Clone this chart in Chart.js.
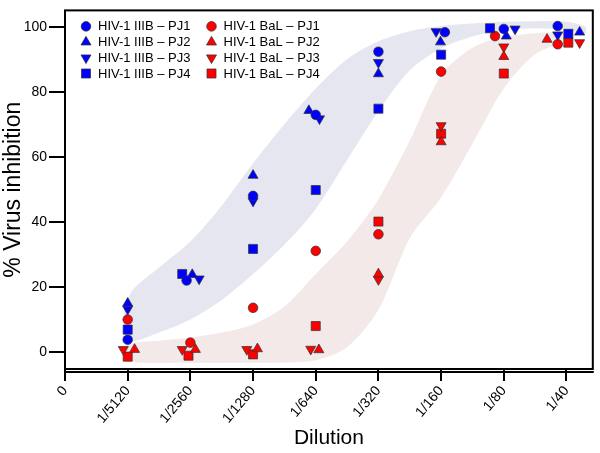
<!DOCTYPE html>
<html lang="en">
<head>
<meta charset="UTF-8">
<title>Virus inhibition vs dilution</title>
<script src="https://cdn.jsdelivr.net/npm/chart.js"></script>
<style>
    body { margin: 0; background: #fff; }
    #wrap { width: 600px; height: 453px; }
</style>
</head>
<body>
<div id="wrap"><canvas id="inhibitionChart" width="600" height="453"></canvas></div>
<script>
// dilution axis labels, position 0..8
const dilutionLabels = ['0', '1/5120', '1/2560', '1/1280', '1/640', '1/320', '1/160', '1/80', '1/40'];

// x = dilution position (points nudged sideways a bit like in the figure), y = % inhibition
const iiibPj1X = [1.0, 1.94, 3.0, 4.0, 5.0, 6.06, 7.0, 7.86];
const iiibPj1Y = [3.8, 22.0, 48.0, 72.9, 92.3, 98.3, 99.3, 100.2];
const iiibPj2X = [1.0, 2.03, 3.0, 3.89, 5.0, 5.99, 7.04, 8.21];
const iiibPj2Y = [15.0, 23.8, 54.3, 74.2, 85.5, 95.3, 97.1, 98.3];
const iiibPj3X = [1.0, 2.14, 3.0, 4.06, 5.0, 5.92, 7.18, 7.86];
const iiibPj3Y = [13.2, 22.5, 46.4, 71.7, 89.0, 98.5, 99.3, 97.5];
const iiibPj4X = [1.0, 1.87, 3.0, 4.0, 5.0, 6.0, 6.78, 8.03];
const iiibPj4Y = [6.9, 24.0, 31.7, 49.8, 74.8, 91.4, 99.5, 97.8];

const balPj1X = [1.0, 2.0, 3.0, 4.0, 5.0, 6.0, 6.86, 7.86];
const balPj1Y = [10.0, 2.9, 13.6, 31.1, 36.2, 86.2, 97.1, 94.6];
const balPj2X = [1.11, 2.08, 3.07, 4.05, 5.0, 6.0, 7.0, 7.69];
const balPj2Y = [0.8, 0.8, 1.0, 0.7, 24.0, 64.6, 90.8, 96.1];
const balPj3X = [0.93, 1.87, 2.9, 3.92, 5.0, 6.0, 7.0, 8.21];
const balPj3Y = [0.8, 0.8, 0.8, 0.9, 22.3, 69.6, 93.8, 95.1];
const balPj4X = [1.0, 1.97, 3.0, 4.0, 5.0, 6.0, 7.0, 8.03];
const balPj4Y = [-1.4, -1.1, -0.7, 8.0, 40.1, 67.1, 85.6, 95.1];

// shaded envelopes (outline: upper edge left->right, then lower edge back)
const iiibBandX = [0.95, 1.1, 1.5, 2.0, 2.5, 3.0, 3.5, 4.0, 4.5, 5.0, 5.5, 6.0, 6.5, 7.0, 7.5, 8.0, 8.3,
                   8.3, 8.0, 7.5, 7.0, 6.5, 6.0, 5.5, 5.0, 4.5, 4.0, 3.5, 3.0, 2.5, 2.0, 1.5, 1.05, 0.93];
const iiibBandY = [14, 19.5, 26, 34, 45, 58, 70, 81, 90, 95.5, 98.6, 100.2, 101, 101.5, 101.7, 101.5, 100,
                   98, 99, 99.5, 98.8, 97, 93.3, 86.6, 74, 59, 44, 33, 24, 16, 10, 6, 3.3, 7];
const balBandX = [0.95, 1.0, 1.5, 2.0, 2.5, 3.0, 3.5, 4.0, 4.5, 5.0, 5.5, 6.0, 6.5, 7.0, 7.5, 7.95,
                  7.95, 7.5, 7.0, 6.5, 6.0, 5.5, 5.0, 4.5, 4.0, 3.5, 3.0, 2.0, 1.0, 0.95];
const balBandY = [0, 2.5, 3.5, 4.5, 6, 8.5, 14, 24, 34, 47, 65, 85, 93.5, 96.8, 98, 98,
                  95.5, 91.5, 81, 64, 47.5, 35, 13, 1.5, -2.5, -3.2, -3.3, -3.3, -3.0, -1];

const seriesNames = [
    'HIV-1 IIIB \u2013 PJ1', 'HIV-1 IIIB \u2013 PJ2', 'HIV-1 IIIB \u2013 PJ3', 'HIV-1 IIIB \u2013 PJ4',
    'HIV-1 BaL \u2013 PJ1', 'HIV-1 BaL \u2013 PJ2', 'HIV-1 BaL \u2013 PJ3', 'HIV-1 BaL \u2013 PJ4'
];

const FONT = 'Arial, "Liberation Sans", sans-serif';
const BLUE = 'rgb(0, 0, 255)';
const RED = 'rgb(255, 0, 0)';
const EDGE = 'rgba(50, 50, 50, 0.9)';

function pts(xs, ys) {
    return xs.map((x, i) => ({ x: x, y: ys[i] }));
}

// marker shapes: circle, up triangle, down triangle, square
const shapes = [
    { pointStyle: 'circle', rotation: 0, radius: 4.8 },
    { pointStyle: 'triangle', rotation: 0, radius: 5.8 },
    { pointStyle: 'triangle', rotation: 180, radius: 5.8 },
    { pointStyle: 'rect', rotation: 0, radius: 6.4 }
];

function markerSet(name, xs, ys, color, shape) {
    return {
        label: name,
        data: pts(xs, ys),
        backgroundColor: color,
        borderColor: EDGE,
        borderWidth: 0.8,
        pointStyle: shape.pointStyle,
        rotation: shape.rotation,
        pointRadius: shape.radius,
        order: 1
    };
}

function bandSet(xs, ys, color) {
    return {
        label: '',
        data: pts(xs, ys),
        showLine: true,
        fill: 'shape',
        backgroundColor: color,
        borderWidth: 0,
        borderColor: 'rgba(0,0,0,0)',
        pointRadius: 0,
        tension: 0.3,
        order: 10
    };
}

function drawMarker(ctx, shape, x, y) {
    const r = shape.radius;
    ctx.beginPath();
    if (shape.pointStyle === 'circle') {
        ctx.arc(x, y, r, 0, Math.PI * 2);
    } else if (shape.pointStyle === 'rect') {
        const s = r * Math.SQRT1_2;
        ctx.rect(x - s, y - s, 2 * s, 2 * s);
    } else {
        let a = shape.rotation * Math.PI / 180;
        ctx.moveTo(x + Math.sin(a) * r, y - Math.cos(a) * r);
        a += Math.PI * 2 / 3;
        ctx.lineTo(x + Math.sin(a) * r, y - Math.cos(a) * r);
        a += Math.PI * 2 / 3;
        ctx.lineTo(x + Math.sin(a) * r, y - Math.cos(a) * r);
        ctx.closePath();
    }
    ctx.fill();
    ctx.stroke();
}

// legend drawn inside the plot, two columns
const insideLegend = {
    id: 'insideLegend',
    afterDatasetsDraw(chart) {
        const { ctx, chartArea } = chart;
        ctx.save();
        ctx.font = '13px ' + FONT;
        ctx.textBaseline = 'middle';
        for (let i = 0; i < 8; i++) {
            const col = Math.floor(i / 4);
            const row = i % 4;
            const mx = chartArea.left + 21 + col * 125.5;
            const my = chartArea.top + 16 + row * 15.7;
            ctx.fillStyle = col === 0 ? BLUE : RED;
            ctx.strokeStyle = EDGE;
            ctx.lineWidth = 0.8;
            drawMarker(ctx, shapes[row], mx, my);
            ctx.fillStyle = '#000';
            ctx.fillText(seriesNames[i], mx + 12, my + 0.5);
        }
        ctx.restore();
    }
};

// box around the plot, plus the separate x axis line under it
const frame = {
    id: 'frame',
    afterDraw(chart) {
        const { ctx, chartArea } = chart;
        ctx.save();
        ctx.strokeStyle = '#000';
        ctx.lineWidth = 2;
        ctx.strokeRect(chartArea.left, chartArea.top, chartArea.right - chartArea.left, chartArea.bottom - chartArea.top);
        ctx.beginPath();
        ctx.moveTo(chartArea.left - 1, chartArea.bottom + 3);
        ctx.lineTo(chartArea.right + 1, chartArea.bottom + 3);
        ctx.stroke();
        ctx.restore();
    }
};

const datasets = [
    markerSet(seriesNames[0], iiibPj1X, iiibPj1Y, BLUE, shapes[0]),
    markerSet(seriesNames[1], iiibPj2X, iiibPj2Y, BLUE, shapes[1]),
    markerSet(seriesNames[2], iiibPj3X, iiibPj3Y, BLUE, shapes[2]),
    markerSet(seriesNames[3], iiibPj4X, iiibPj4Y, BLUE, shapes[3]),
    markerSet(seriesNames[4], balPj1X, balPj1Y, RED, shapes[0]),
    markerSet(seriesNames[5], balPj2X, balPj2Y, RED, shapes[1]),
    markerSet(seriesNames[6], balPj3X, balPj3Y, RED, shapes[2]),
    markerSet(seriesNames[7], balPj4X, balPj4Y, RED, shapes[3]),
    bandSet(iiibBandX, iiibBandY, 'rgb(230, 230, 240)'),
    bandSet(balBandX, balBandY, 'rgb(243, 233, 233)')
];

new Chart(document.getElementById('inhibitionChart'), {
    type: 'scatter',
    data: { datasets: datasets },
    options: {
        responsive: false,
        animation: false,
        devicePixelRatio: 1,
        layout: { padding: { top: 3, right: 6, left: 0, bottom: 0 } },
        plugins: {
            legend: { display: false },
            tooltip: { enabled: false }
        },
        scales: {
            x: {
                type: 'linear',
                min: 0,
                max: 8.42,
                afterFit(scale) { scale.height = 84; },
                grid: { display: true, drawOnChartArea: false, drawTicks: true, tickLength: 12, lineWidth: 2, color: '#000' },
                border: { display: false },
                ticks: {
                    stepSize: 1,
                    includeBounds: false,
                    autoSkip: false,
                    minRotation: 50,
                    maxRotation: 50,
                    padding: 2,
                    color: '#000',
                    font: { family: FONT, size: 14 },
                    callback: (v) => dilutionLabels[v] !== undefined ? dilutionLabels[v] : ''
                },
                title: {
                    display: true,
                    text: 'Dilution',
                    color: '#000',
                    font: { family: FONT, size: 21 },
                    padding: { top: 0, bottom: 2 }
                }
            },
            y: {
                min: -5.2,
                max: 105,
                afterFit(scale) { scale.width = 65; },
                grid: { display: true, drawOnChartArea: false, drawTicks: true, tickLength: 16, lineWidth: 2, color: '#000' },
                border: { display: false },
                ticks: {
                    stepSize: 20,
                    includeBounds: false,
                    padding: 2,
                    color: '#000',
                    font: { family: FONT, size: 14 }
                },
                title: {
                    display: true,
                    text: '% Virus inhibition',
                    color: '#000',
                    font: { family: FONT, size: 23 },
                    padding: { top: 0, bottom: 0 }
                }
            }
        }
    },
    plugins: [insideLegend, frame]
});
</script>
</body>
</html>
